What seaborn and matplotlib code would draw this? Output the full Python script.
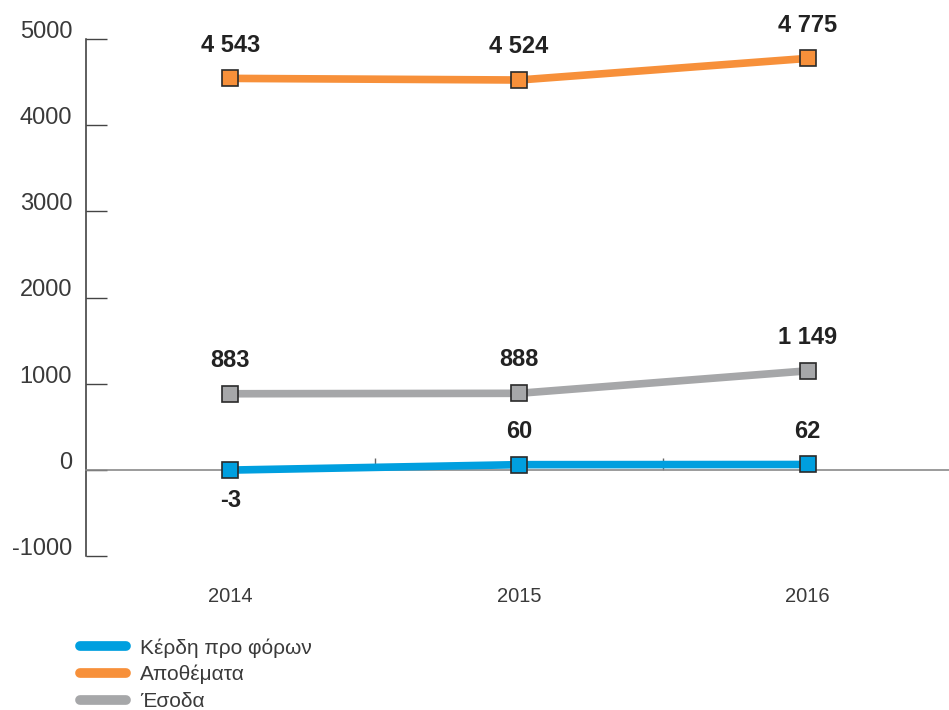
import pandas as pd
import matplotlib
matplotlib.use("Agg")
import matplotlib.pyplot as plt
import matplotlib.transforms as mtransforms
from matplotlib.lines import Line2D
import seaborn as sns

# ===[ Data ]==================================================================
years = ["2014", "2015", "2016"]
profit = [-3, 60, 62]          # Κέρδη προ φόρων
stocks = [4543, 4524, 4775]    # Αποθέματα
income = [883, 888, 1149]      # Έσοδα
series_names = ["Κέρδη προ φόρων", "Αποθέματα", "Έσοδα"]
colors = ["#009FDF", "#F7903A", "#A6A7A9"]
y_ticks = [-1000, 0, 1000, 2000, 3000, 4000, 5000]


def fmt(v):
    return f"{v:,}".replace(",", " ")


def main():
    sns.set_style("white")
    plt.rcParams["font.family"] = ["Liberation Sans", "DejaVu Sans"]

    rows = []
    for name, vals in zip(series_names, [profit, stocks, income]):
        for i, v in enumerate(vals):
            rows.append({"x": i, "year": years[i], "value": v, "series": name})
    df = pd.DataFrame(rows)

    fig = plt.figure(figsize=(9.49, 7.10), dpi=100)
    ax = fig.add_axes([86 / 949, 154 / 710, 1 - 86 / 949, 517 / 710])

    for name, col in zip(series_names, colors):
        sub = df[df["series"] == name]
        sns.lineplot(data=sub, x="x", y="value", ax=ax, color=col,
                     linewidth=5.5, marker="s", markersize=11,
                     markeredgecolor="#2a2a2a", markeredgewidth=1.2,
                     markerfacecolor=col, legend=False, zorder=3)

    # value labels
    for name, vals in zip(series_names, [profit, stocks, income]):
        for i, v in enumerate(vals):
            below = v < 0
            ax.annotate(fmt(v), (i, v), xytext=(0, -22 if below else 24),
                        textcoords="offset points", ha="center",
                        va="center", fontsize=17, fontweight="bold",
                        color="#222222", annotation_clip=False)

    ax.set_xlim(-0.5, 2.49)
    ax.set_ylim(-1000, 5000)
    ax.set_xlabel("")
    ax.set_ylabel("")

    # spines
    for s in ["top", "right"]:
        ax.spines[s].set_visible(False)
    ax.spines["left"].set_color("#333333")
    ax.spines["left"].set_linewidth(1.1)
    ax.spines["bottom"].set_position(("data", 0))
    ax.spines["bottom"].set_color("#8a8a8a")
    ax.spines["bottom"].set_linewidth(1.2)

    # y axis
    ax.set_yticks(y_ticks)
    ax.set_yticklabels([str(t) for t in y_ticks])
    ax.tick_params(axis="y", left=True, direction="in", length=15,
                   width=1.0, color="#444444", pad=10, labelsize=17,
                   labelcolor="#3a3a3a")
    shift = mtransforms.ScaledTranslation(0, 1 / 100, fig.dpi_scale_trans)
    for lab in ax.get_yticklabels():
        lab.set_va("baseline")
        lab.set_transform(lab.get_transform() + shift)

    # separators on the zero line
    ax.set_xticks([0.5, 1.5])
    ax.set_xticklabels(["", ""])
    ax.tick_params(axis="x", bottom=True, direction="in", length=9,
                   width=1.0, color="#666666")

    # category labels
    sec = ax.secondary_xaxis("bottom")
    sec.set_xticks([0, 1, 2])
    sec.set_xticklabels(years)
    sec.tick_params(bottom=False, length=0, pad=22, labelsize=14.5,
                    labelcolor="#3a3a3a")
    sec.spines["bottom"].set_visible(False)

    # legend
    handles = [Line2D([0], [0], color=c, linewidth=7,
                      solid_capstyle="round") for c in colors]
    fig.legend(handles, series_names, loc="upper left",
               bbox_to_anchor=(80 / 949, 1 - 638 / 710),
               frameon=False, fontsize=15, handlelength=2.2,
               handletextpad=0.7, labelspacing=0.36, borderpad=0,
               borderaxespad=0, labelcolor="#3a3a3a")

    fig.savefig("out.png", dpi=100)


if __name__ == "__main__":
    main()
